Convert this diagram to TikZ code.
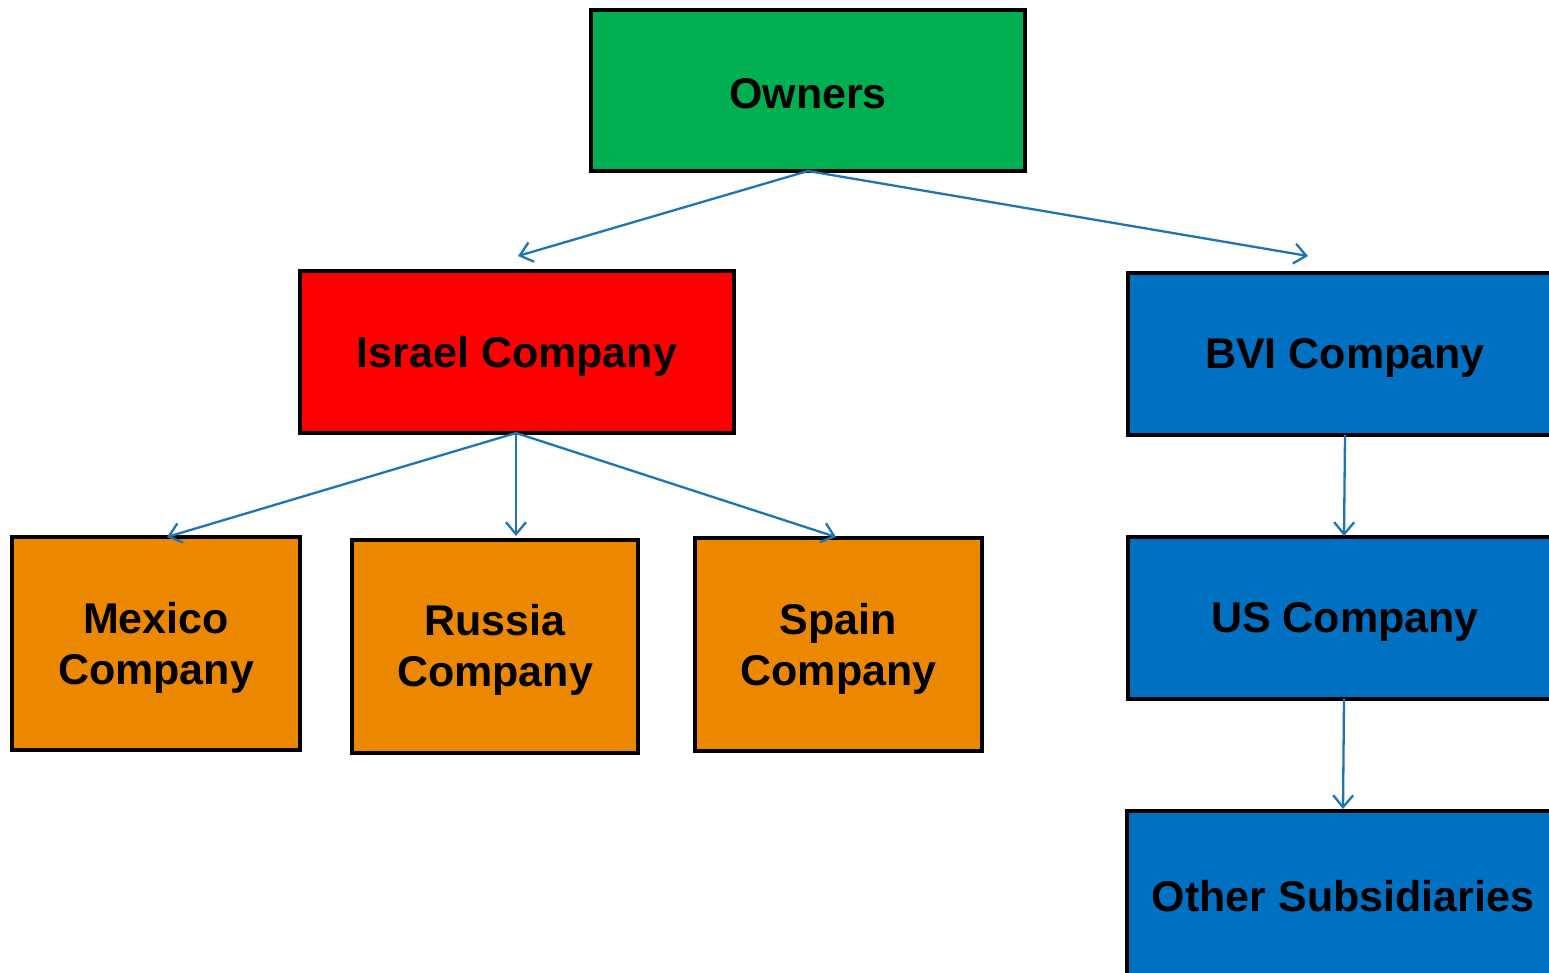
\documentclass[tikz,border=0pt]{standalone}
\usepackage{fontspec}
\setmainfont{Liberation Sans}
\usetikzlibrary{arrows.meta}
\definecolor{owngreen}{HTML}{00B050}
\definecolor{isred}{HTML}{FF0000}
\definecolor{bviblue}{HTML}{0070C0}
\definecolor{suborange}{HTML}{EC8800}
\definecolor{arrowblue}{HTML}{1F74B4}
\begin{document}
\begin{tikzpicture}[x=1pt,y=-1pt,
  box/.style={draw=black,line width=3.5pt,font=\bfseries\fontsize{43}{51}\selectfont,align=center},
  link/.style={draw=arrowblue,line width=2.3pt,-{Straight Barb[length=12pt,width=20pt,line width=2.3pt]}}]
\useasboundingbox (0,0) rectangle (1549,973);
\fill[white] (0,0) rectangle (1549,973);
\draw[box,fill=owngreen] (591,10) rectangle (1025,171);
\node[box,draw=none] (own) at (808,94) {Owners};
\coordinate (ownb) at (808,171);
\draw[box,fill=isred] (300,271) rectangle (734,433);
\node[box,draw=none] (isr) at (517,356) {Israel Company};
\coordinate (isrt) at (518,256);
\coordinate (isrb) at (516,433);
\draw[box,fill=bviblue] (1128,273) rectangle (1562,435);
\node[box,draw=none] (bvi) at (1345,358) {BVI Company};
\coordinate (bvit) at (1308,256);
\coordinate (bvib) at (1345,435);
\draw[box,fill=suborange] (12,537) rectangle (300,750);
\node[box,draw=none] (mex) at (156,648) {Mexico\\Company};
\coordinate (mext) at (167,537);
\draw[box,fill=suborange] (352,540) rectangle (638,753);
\node[box,draw=none] (rus) at (495,650) {Russia\\Company};
\coordinate (rust) at (516,536);
\draw[box,fill=suborange] (695,538) rectangle (982,751);
\node[box,draw=none] (spa) at (838.5,649) {Spain\\Company};
\coordinate (spat) at (836,537);
\draw[box,fill=bviblue] (1128,537) rectangle (1562,699);
\node[box,draw=none] (us) at (1345,622) {US Company};
\coordinate (ust) at (1344,536);
\coordinate (usb) at (1344,699);
\draw[box,fill=bviblue] (1127,811) rectangle (1562,980);
\node[box,draw=none] (oth) at (1343,896) {Other Subsidiaries};
\coordinate (otht) at (1343,809);
\draw[link] (ownb) -- (isrt);
\draw[link] (ownb) -- (bvit);
\draw[link] (isrb) -- (mext);
\draw[link] (isrb) -- (rust);
\draw[link] (isrb) -- (spat);
\draw[link] (bvib) -- (ust);
\draw[link] (usb) -- (otht);
\end{tikzpicture}
\end{document}
